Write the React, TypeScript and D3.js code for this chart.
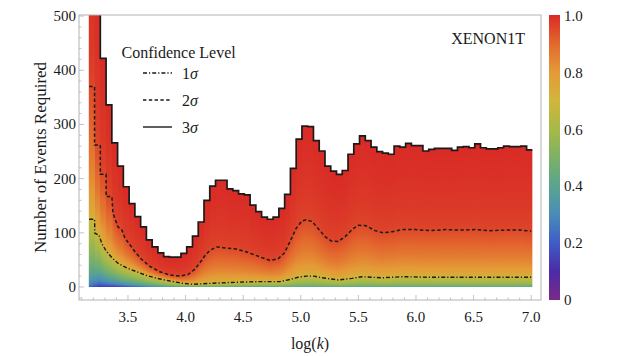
import React, { useMemo } from 'react';
import * as d3 from 'd3';

const W = 623;
const H = 356;

// 3-sigma histogram: one value per log(k) bin
const binStart = 3.16;
const binWidth = 0.05;
const sigma3 = [
  640, 560, 422, 336, 266, 223, 185, 154, 130, 111,
  87, 74, 63, 56, 55, 55, 62, 74, 94, 120,
  160, 186, 197, 197, 181, 178, 172, 170, 151, 139,
  129, 125, 129, 145, 171, 219, 273, 297, 296, 270,
  251, 223, 214, 208, 215, 245, 264, 279, 270, 258,
  250, 247, 245, 260, 258, 265, 261, 261, 251, 254,
  256, 256, 256, 252, 258, 259, 257, 264, 257, 255,
  255, 257, 260, 259, 259, 260, 253,
];

// 2-sigma contour
const sigma2K = [
  3.164, 3.21, 3.21, 3.26, 3.26, 3.31, 3.31, 3.36, 3.37, 3.413, 3.448, 3.474,
  3.517, 3.561, 3.613, 3.691, 3.778, 3.865, 3.952, 4.021, 4.082, 4.125, 4.169,
  4.212, 4.273, 4.351, 4.438, 4.525, 4.603, 4.664, 4.733, 4.803, 4.855, 4.907,
  4.959, 5.011, 5.046, 5.098, 5.15, 5.211, 5.263, 5.324, 5.385, 5.445, 5.498,
  5.567, 5.645, 5.715, 5.793, 5.88, 5.993, 6.123, 6.253, 6.383, 6.514, 6.644,
  6.774, 6.905, 7.0,
];
const sigma2N = [
  370, 370, 262, 262, 208, 208, 167, 167, 136, 111, 105, 90,
  78, 65, 52, 38, 28, 22, 20, 23, 33, 45, 58,
  68, 74, 72, 70, 65, 59, 54, 49, 52, 62, 84,
  108, 122, 124, 121, 108, 93, 85, 84, 93, 106, 114,
  113, 104, 100, 102, 106, 106, 104, 106, 105, 106, 104,
  105, 105, 103,
];

// 1-sigma contour
const sigma1K = [
  3.164, 3.21, 3.213, 3.248, 3.274, 3.309, 3.361, 3.413, 3.491, 3.578, 3.665,
  3.752, 3.865, 3.969, 4.065, 4.238, 4.473, 4.646, 4.82, 4.907, 4.976, 5.046,
  5.115, 5.185, 5.324, 5.445, 5.532, 5.706, 5.88, 6.123, 6.383, 6.644, 7.0,
];
const sigma1N = [
  125, 125, 99, 96, 80, 67, 54, 44, 35, 28, 21,
  16, 11, 7, 5, 7, 9, 10, 10, 14, 18, 20,
  20, 17, 13, 16, 19, 17, 19, 18, 18, 18, 18,
];

// confidence at zero events
const baseK = [3.16, 3.25, 3.4, 3.6, 3.85, 4.2, 7.0];
const baseP = [0.2, 0.07, 0.07, 0.16, 0.3, 0.36, 0.38];

const yTicks = [0, 100, 200, 300, 400, 500];
const xTicks = [3.5, 4.0, 4.5, 5.0, 5.5, 6.0, 6.5, 7.0];
const cbTicks = [0, 0.2, 0.4, 0.6, 0.8, 1.0];
const cbLabels = ['0', '0.2', '0.4', '0.6', '0.8', '1.0'];
const rainbowStops = [0, 0.1, 0.2, 0.3, 0.4, 0.5, 0.6, 0.7, 0.8, 0.9, 1.0];
const rainbow = [
  '#7a2a86', '#4b2ba8', '#3f5cc6', '#4a8cb8', '#5aa48e', '#7cb166',
  '#a8b948', '#d1b63b', '#e49a36', '#e3682e', '#d92b26',
];

const font = "'Liberation Serif', 'DejaVu Serif', serif";
const ink = '#1a1a1a';
const frame = '#b4b4b4';

function interp(xs: number[], ys: number[], t: number) {
  if (t <= xs[0]) return ys[0];
  for (let i = 0; i < xs.length - 1; i++) {
    if (t >= xs[i] && t <= xs[i + 1] && xs[i + 1] > xs[i]) {
      const f = (t - xs[i]) / (xs[i + 1] - xs[i]);
      return ys[i] + f * (ys[i + 1] - ys[i]);
    }
  }
  return ys[ys.length - 1];
}

export default function App() {
  const x = d3.scaleLinear().domain([3.075, 7.085]).range([79, 541]);
  const y = d3.scaleLinear().domain([-24, 502]).range([300, 15]);
  const cb = d3.scaleLinear().domain([0, 1]).range([300, 16]);
  const color = d3
    .scaleLinear<string>()
    .domain(rainbowStops)
    .range(rainbow)
    .interpolate(d3.interpolateRgb);

  const edges = sigma3.map((v, i) => [binStart + i * binWidth, v]);
  edges.push([binStart + sigma3.length * binWidth, sigma3[sigma3.length - 1]]);

  const heatX0 = Math.floor(x(binStart));
  const heatX1 = Math.ceil(x(binStart + sigma3.length * binWidth));
  const heatY0 = 15;
  const heatY1 = Math.round(y(0));

  const heatUrl = useMemo(() => {
    const w = heatX1 - heatX0;
    const h = heatY1 - heatY0;
    const canvas = document.createElement('canvas');
    canvas.width = w;
    canvas.height = h;
    const ctx = canvas.getContext('2d');
    if (!ctx) return '';
    const img = ctx.createImageData(w, h);
    for (let i = 0; i < w; i++) {
      const k = x.invert(heatX0 + i + 0.5);
      const n1 = interp(sigma1K, sigma1N, k);
      const n2 = interp(sigma2K, sigma2N, k);
      const bi = Math.max(0, Math.min(sigma3.length - 1, Math.floor((k - binStart) / binWidth)));
      const n3 = Math.max(sigma3[bi], n2 + 10);
      const p0 = interp(baseK, baseP, k);
      for (let j = 0; j < h; j++) {
        const N = y.invert(heatY0 + j + 0.5);
        let p;
        if (N <= 0) p = p0;
        else if (N < n1) p = p0 + (0.68 - p0) * Math.sqrt(N / n1);
        else if (N < n2) p = 0.68 + 0.27 * Math.sqrt((N - n1) / (n2 - n1));
        else if (N < n3) p = 0.95 + 0.05 * Math.sqrt((N - n2) / (n3 - n2));
        else p = 1;
        const c = d3.rgb(color(p));
        const o = (j * w + i) * 4;
        img.data[o] = c.r;
        img.data[o + 1] = c.g;
        img.data[o + 2] = c.b;
        img.data[o + 3] = 255;
      }
    }
    ctx.putImageData(img, 0, 0);
    return canvas.toDataURL();
  }, []);

  const area = d3
    .area<number[]>()
    .x((d) => x(d[0]))
    .y0(y(0))
    .y1((d) => y(Math.min(d[1], 502)))
    .curve(d3.curveStepAfter);
  const stepLine = d3
    .line<number[]>()
    .x((d) => x(d[0]))
    .y((d) => y(Math.min(d[1], 510)))
    .curve(d3.curveStepAfter);

  const s2 = sigma2K.map((k, i) => [x(k), y(sigma2N[i])] as [number, number]);
  const s1 = sigma1K.map((k, i) => [x(k), y(sigma1N[i])] as [number, number]);
  const plain = d3.line();

  const minorY = d3.range(-20, 501, 20).filter((v) => v % 100 !== 0);
  const minorX = d3.range(31, 71).map((v) => v / 10).filter((v) => (v * 10) % 5 !== 0);

  const legend = [
    { label: '1', dash: '4,2,1.2,2', y: 73 },
    { label: '2', dash: '3.4,2.4', y: 100 },
    { label: '3', dash: null, y: 127 },
  ];

  return (
    <svg width={W} height={H} style={{ position: 'absolute', left: 0, top: 0 }} fontFamily={font}>
      <defs>
        <clipPath id="under3">
          <path d={area(edges) || ''} />
        </clipPath>
        <clipPath id="plot">
          <rect x={79} y={15} width={462} height={285} />
        </clipPath>
        <linearGradient id="cbar" x1="0" y1="1" x2="0" y2="0">
          {rainbowStops.map((s, i) => (
            <stop key={i} offset={s} stopColor={rainbow[i]} />
          ))}
        </linearGradient>
      </defs>
      <rect width={W} height={H} fill="#fff" />

      <image
        href={heatUrl}
        x={heatX0}
        y={heatY0}
        width={heatX1 - heatX0}
        height={heatY1 - heatY0}
        preserveAspectRatio="none"
        clipPath="url(#under3)"
      />

      <g clipPath="url(#plot)" fill="none" stroke={ink}>
        <path d={stepLine(edges) || ''} strokeWidth={1.7} />
        <path d={plain(s2) || ''} strokeWidth={1.5} strokeDasharray="3.4,2.4" />
        <path d={plain(s1) || ''} strokeWidth={1.4} strokeDasharray="4,2,1.2,2" />
      </g>

      {/* frame */}
      <rect x={79} y={15} width={462} height={285} fill="none" stroke={frame} strokeWidth={1} />
      <g stroke={frame} strokeWidth={0.8}>
        {yTicks.map((v) => (
          <line key={'ym' + v} x1={79} x2={84} y1={y(v)} y2={y(v)} />
        ))}
        {minorY.map((v) => (
          <line key={'yn' + v} x1={79} x2={81.5} y1={y(v)} y2={y(v)} />
        ))}
        {xTicks.map((v) => (
          <line key={'xm' + v} x1={x(v)} x2={x(v)} y1={300} y2={295} />
        ))}
        {minorX.map((v) => (
          <line key={'xn' + v} x1={x(v)} x2={x(v)} y1={300} y2={297.5} />
        ))}
      </g>

      <g fontSize={15} fill={ink}>
        {yTicks.map((v) => (
          <text key={'yl' + v} x={76} y={y(v)} textAnchor="end" dominantBaseline="central">
            {v}
          </text>
        ))}
        {xTicks.map((v) => (
          <text key={'xl' + v} x={x(v)} y={317} textAnchor="middle" dominantBaseline="central">
            {v.toFixed(1)}
          </text>
        ))}
      </g>

      <text
        transform="translate(40,157.5) rotate(-90)"
        textAnchor="middle"
        dominantBaseline="central"
        fontSize={17}
        fill={ink}
      >
        Number of Events Required
      </text>
      <text x={310} y={343} textAnchor="middle" dominantBaseline="central" fontSize={16} fill={ink}>
        log(<tspan fontStyle="italic">k</tspan>)
      </text>

      <text x={525} y={38} textAnchor="end" dominantBaseline="central" fontSize={16} fill={ink}>
        XENON1T
      </text>

      {/* legend */}
      <text x={121.5} y={52} dominantBaseline="central" fontSize={16} fill={ink}>
        Confidence Level
      </text>
      {legend.map((d) => (
        <g key={d.label}>
          <line
            x1={143}
            x2={172}
            y1={d.y}
            y2={d.y}
            stroke={ink}
            strokeWidth={1.4}
            strokeDasharray={d.dash || undefined}
          />
          <text x={182} y={d.y} dominantBaseline="central" fontSize={16} fill={ink}>
            {d.label}
            <tspan fontStyle="italic">σ</tspan>
          </text>
        </g>
      ))}

      {/* colour bar */}
      <rect x={549} y={15} width={11} height={285} fill="url(#cbar)" />
      <g fontSize={15} fill={ink}>
        {cbTicks.map((v, i) => (
          <text key={'cb' + v} x={564} y={cb(v)} dominantBaseline="central">
            {cbLabels[i]}
          </text>
        ))}
      </g>
    </svg>
  );
}
